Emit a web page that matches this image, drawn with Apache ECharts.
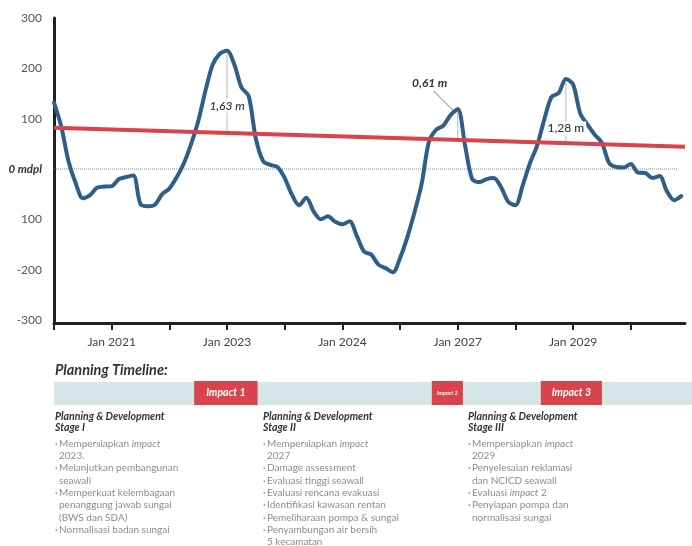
<!DOCTYPE html>
<html>
<head>
<meta charset="utf-8">
<script src="https://cdn.jsdelivr.net/npm/echarts@6/dist/echarts.min.js"></script>
<style>
  html, body { margin: 0; padding: 0; background: #ffffff; }
  #chart { width: 692px; height: 546px; }
</style>
</head>
<body>
<div id="chart"></div>
<script>
// Sea level relative to 0 mdpl (cm), one sample every 1/8 of an axis tick step
const sampleStep = 0.125;
const waterLevel = [
  132, 85, 16, -28, -58, -52, -37, -35, -34, -20,
  -16, -13, -70, -74, -71, -50, -39, -17, 11, 49,
  95, 155, 207, 229, 235, 208, 162, 145, 60, 16,
  8, 4, -18, -51, -72, -57, -84, -100, -94, -105,
  -110, -104, -133, -164, -170, -190, -197, -205, -177, -136,
  -86, -29, 54, 78, 86, 107, 119, 48, -20, -26,
  -20, -18, -36, -65, -72, -33, 11, 46, 98, 143,
  151, 179, 168, 110, 88, 68, 52, 12, 4, 3,
  10, -7, -8, -18, -14, -44, -62, -54
];

// Trend line (cm) at the start and end of the time axis
const trendStart = 82;
const trendEnd = 44;
const xMax = 10.94;

// Time axis ticks and labels
const xTickValues = [0, 1, 2, 3, 4, 5, 6, 7, 8, 9, 10];
const xLabelValues = [1, 3, 5, 7, 9];
const xLabelTexts = ['Jan 2021', 'Jan 2023', 'Jan 2024', 'Jan 2027', 'Jan 2029'];

// Level axis ticks and labels
const yTickValues = [-300, -200, -100, 0, 100, 200, 300];
const yTickTexts = ['-300', '-200', '100', '0 mdpl', '100', '200', '300'];

// Peak annotations: sample index of each peak and the stated height above trend
const peakIndices = [24, 56, 71];
const peakTexts = ['1,63 m', '0,61 m', '1,28 m'];

// Impact periods on the time axis
const impactNames = ['Impact 1', 'Impact 2', 'Impact 3'];
const impactStart = [2.43, 6.55, 8.44];
const impactEnd = [3.53, 7.09, 9.5];

// Planning stages
const stageTitles = [
  ['Planning & Development', 'Stage I'],
  ['Planning & Development', 'Stage II'],
  ['Planning & Development', 'Stage III']
];
const stageItems = [
  [
    ['Mempersiapkan {i|impact}', '2023.'],
    ['Melanjutkan pembangunan', 'seawall'],
    ['Memperkuat kelembagaan', 'penanggung jawab sungai', '(BWS dan SDA)'],
    ['Normalisasi badan sungai']
  ],
  [
    ['Mempersiapkan {i|impact}', '2027'],
    ['Damage assessment'],
    ['Evaluasi tinggi seawall'],
    ['Evaluasi rencana evakuasi'],
    ['Identifikasi kawasan rentan'],
    ['Pemeliharaan pompa & sungai'],
    ['Penyambungan air bersih', '5 kecamatan']
  ],
  [
    ['Mempersiapkan {i|impact}', '2029'],
    ['Penyelesaian reklamasi', 'dan NCICD seawall'],
    ['Evaluasi {i|impact} 2'],
    ['Penyiapan pompa dan', 'normalisasi sungai']
  ]
];

const FONT = 'Lato, "Open Sans", sans-serif';
const BLUE = '#2f5f88';
const RED = '#d9434b';

const levelData = waterLevel.map((v, i) => [i * sampleStep, v]);
const trendAt = x => trendStart + (trendEnd - trendStart) * x / xMax;

const chart = echarts.init(document.getElementById('chart'), null, { renderer: 'canvas' });

chart.setOption({
  animation: false,
  backgroundColor: '#ffffff',
  grid: { left: 54, right: 7, top: 18, height: 305, outerBoundsMode: 'none' },
  xAxis: {
    type: 'value',
    min: 0,
    max: xMax,
    axisLine: { show: true, onZero: false, lineStyle: { color: '#222', width: 3 } },
    axisTick: { show: true, customValues: xTickValues, length: 7, lineStyle: { color: '#222', width: 2 } },
    axisLabel: {
      customValues: xLabelValues,
      margin: 13,
      color: '#444',
      fontSize: 12,
      fontFamily: FONT,
      formatter: v => xLabelTexts[xLabelValues.indexOf(Math.round(v))] || ''
    },
    splitLine: { show: false }
  },
  yAxis: {
    type: 'value',
    min: -306,
    max: 300,
    axisLine: { show: true, onZero: false, lineStyle: { color: '#222', width: 3 } },
    axisTick: { show: false },
    axisLabel: {
      customValues: yTickValues,
      margin: 12,
      color: '#555',
      fontSize: 12,
      fontFamily: FONT,
      formatter: v => {
        const t = yTickTexts[yTickValues.indexOf(Math.round(v))];
        return v === 0 ? '{z|' + t + '}' : t;
      },
      rich: {
        z: { fontStyle: 'italic', fontWeight: 'bold', fontSize: 11.5, color: '#333', fontFamily: FONT }
      }
    },
    splitLine: { show: false }
  },
  series: [
    {
      name: 'zero',
      type: 'line',
      data: [[0, 0], [10.82, 0]],
      symbol: 'none',
      silent: true,
      z: 1,
      lineStyle: { color: '#8a8a8a', width: 1, type: 'dotted' }
    },
    {
      name: 'level',
      type: 'line',
      data: levelData,
      symbol: 'none',
      smooth: 0.3,
      z: 3,
      lineStyle: { color: BLUE, width: 4, cap: 'round', join: 'round' }
    },
    {
      name: 'trend',
      type: 'line',
      data: [[0, trendStart], [xMax, trendEnd]],
      symbol: 'none',
      z: 4,
      lineStyle: { color: RED, width: 4 }
    }
  ]
});

function pt(x, y) { return chart.convertToPixel({ gridIndex: 0 }, [x, y]); }

const graphics = [];

// Peak height markers between the trend and each peak
const labelFractions = [0.67, null, 0.77];
peakIndices.forEach((idx, k) => {
  const x = idx * sampleStep;
  const top = pt(x, waterLevel[idx]);
  const bottom = pt(x, trendAt(x));
  graphics.push({
    type: 'line', z: 2,
    shape: { x1: top[0], y1: top[1] + 3, x2: bottom[0], y2: bottom[1] },
    style: { stroke: '#b8b8b8', lineWidth: 1 }
  });
  if (labelFractions[k] !== null) {
    const ly = top[1] + (bottom[1] - top[1]) * labelFractions[k];
    graphics.push({
      type: 'text', z: 10,
      style: {
        text: peakTexts[k], x: top[0], y: ly,
        align: 'center', verticalAlign: 'middle',
        font: (k === 0 ? 'italic 500 ' : '500 ') + '12px ' + FONT,
        fill: '#333', backgroundColor: '#ffffff', padding: [1, 2]
      }
    });
  } else {
    graphics.push({
      type: 'line', z: 2,
      shape: { x1: top[0] - 24, y1: top[1] - 18, x2: top[0] - 5, y2: top[1] + 1 },
      style: { stroke: '#777', lineWidth: 1 }
    });
    graphics.push({
      type: 'text', z: 10,
      style: {
        text: peakTexts[k], x: top[0] - 28, y: top[1] - 26,
        align: 'center', verticalAlign: 'middle',
        font: 'italic bold 12px ' + FONT, fill: '#333'
      }
    });
  }
});

// Planning timeline
const bandLeft = pt(0, 0)[0];
graphics.push({
  type: 'text',
  style: {
    text: 'Planning Timeline:', x: bandLeft + 1, y: 370,
    verticalAlign: 'middle', font: 'italic bold 14.5px ' + FONT, fill: '#333'
  }
});
graphics.push({
  type: 'rect',
  shape: { x: bandLeft, y: 382, width: 692 - bandLeft, height: 23 },
  style: { fill: '#d5e6e8' }
});
impactNames.forEach((name, k) => {
  const x0 = pt(impactStart[k], 0)[0];
  const x1 = pt(impactEnd[k], 0)[0];
  graphics.push({
    type: 'rect',
    shape: { x: x0, y: 381, width: x1 - x0, height: 24 },
    style: { fill: RED }
  });
  graphics.push({
    type: 'text',
    style: {
      text: name, x: (x0 + x1) / 2, y: 393,
      align: 'center', verticalAlign: 'middle',
      font: 'italic bold ' + (x1 - x0 < 40 ? 5.5 : 10.5) + 'px ' + FONT, fill: '#ffffff'
    }
  });
});

const columnX = [55, 263, 468];
const lineStep = 12.3;
stageTitles.forEach((title, c) => {
  title.forEach((t, r) => {
    graphics.push({
      type: 'text',
      style: {
        text: t, x: columnX[c], y: 416.5 + r * 11.5,
        verticalAlign: 'middle', font: 'italic bold 10.5px ' + FONT, fill: '#333'
      }
    });
  });
  let row = 0;
  stageItems[c].forEach(item => {
    item.forEach((ln, j) => {
      const y = 443.5 + row * lineStep;
      if (j === 0) {
        graphics.push({
          type: 'text',
          style: { text: '·', x: columnX[c], y: y, verticalAlign: 'middle', font: 'bold 10px ' + FONT, fill: '#999' }
        });
      }
      graphics.push({
        type: 'text',
        style: {
          text: ln, x: columnX[c] + 4, y: y, verticalAlign: 'middle',
          font: '10px ' + FONT, fill: '#8c8c8c',
          rich: { i: { fontStyle: 'italic', fontSize: 10, fontFamily: FONT, fill: '#8c8c8c' } }
        }
      });
      row++;
    });
  });
});

chart.setOption({ graphic: graphics });
</script>
</body>
</html>
